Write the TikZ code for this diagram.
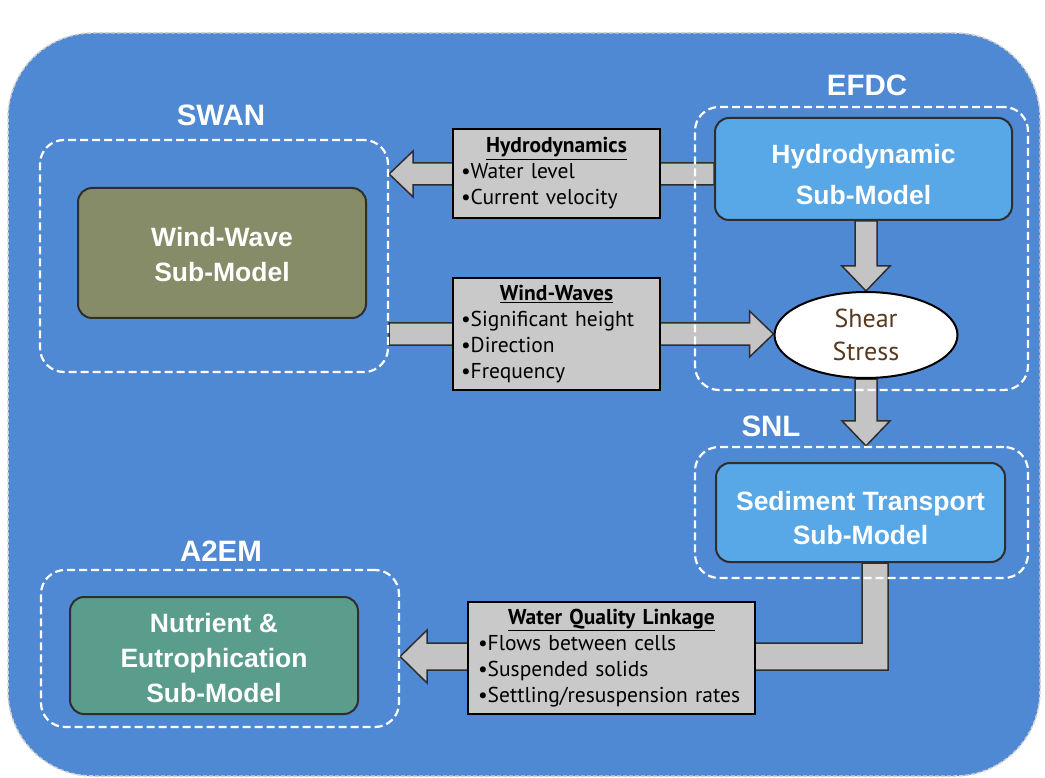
\documentclass[tikz,border=0pt]{standalone}
\usepackage{fontspec}
\setmainfont{Liberation Sans}
\newfontfamily\infofont{PT Sans}
\usetikzlibrary{shapes.geometric,calc}
\definecolor{bgblue}{HTML}{4F88D3}
\definecolor{olivebox}{HTML}{878C68}
\definecolor{tealbox}{HTML}{5B9D8D}
\definecolor{lightblue}{HTML}{58A7E6}
\definecolor{infogray}{HTML}{C9C9C9}
\definecolor{arrowgray}{HTML}{C4C4C4}
\definecolor{edgedark}{HTML}{2E2E2E}
\definecolor{sheartext}{HTML}{5A3A1E}
\definecolor{framegray}{HTML}{D0D0D0}
\pgfdeclarelayer{bglayer}
\pgfdeclarelayer{arrlayer}
\pgfsetlayers{bglayer,arrlayer,main}
\tikzset{
  model/.style={draw=edgedark, line width=2pt, rounded corners=14pt, inner sep=0pt},
  modeltext/.style={text=white, font=\fontsize{26.5}{35}\selectfont\bfseries, align=center, inner sep=0pt},
  group/.style={draw=white, dash pattern=on 8pt off 4pt, line width=2.2pt, rounded corners=24pt, inner sep=0pt},
  grouplabel/.style={text=white, font=\fontsize{29.5}{32}\selectfont\bfseries},
  info/.style={draw=black, line width=2pt, fill=infogray, font=\infofont\fontsize{21.5}{26}\selectfont,
    inner sep=0pt, align=left},
  fat/.style={draw=edgedark, line width=1.5pt, fill=arrowgray, line join=miter},
}
\newcommand\fatH[3]{%
  \draw[fat] let \p1=(#1), \p2=(#2), \n1={ifthenelse(\x1>\x2,1,-1)}, \n2={\x2+\n1*24} in
    (\x1,-#3pt+11pt) -- (\n2,-#3pt+11pt) -- (\n2,-#3pt+23pt) -- (\x2,-#3pt)
    -- (\n2,-#3pt-23pt) -- (\n2,-#3pt-11pt) -- (\x1,-#3pt-11pt) -- cycle;}
\newcommand\fatV[3]{%
  \draw[fat] let \p1=(#1), \p2=(#2), \n1={ifthenelse(\y1>\y2,1,-1)}, \n2={\y2+\n1*25} in
    (#3pt-11pt,\y1) -- (#3pt-11pt,\n2) -- (#3pt-24pt,\n2) -- (#3pt,\y2)
    -- (#3pt+24pt,\n2) -- (#3pt+11pt,\n2) -- (#3pt+11pt,\y1) -- cycle;}
\newcommand\ctrhead[1]{\hbox to\hsize{\hfil\underline{\bfseries #1}\hfil}}
\begin{document}
\begin{tikzpicture}[x=1pt,y=-1pt]
\useasboundingbox (0,0) rectangle (1045,778);

\begin{pgfonlayer}{bglayer}
\fill[white] (0,0) rectangle (1045,778);
\node[draw=framegray, dash pattern=on 4pt off 2pt, line width=1.5pt, fill=bgblue, rounded corners=85pt,
  minimum width=1032pt, minimum height=743pt, inner sep=0pt] (frame) at (524,404.5) {};
\end{pgfonlayer}

% group boxes
\node[group, minimum width=348pt, minimum height=232pt] (swanbox) at (214,256) {};
\node[group, minimum width=333pt, minimum height=283pt] (efdcbox) at (861.5,248.5) {};
\node[group, minimum width=333pt, minimum height=131pt] (snlbox) at (861.5,512.5) {};
\node[group, minimum width=358pt, minimum height=157pt] (a2embox) at (220,648.5) {};

% group labels
\node[grouplabel] (swanlab) at (221,115) {SWAN};
\node[grouplabel] (efdclab) at (867,85) {EFDC};
\node[grouplabel] (snllab) at (771,426) {SNL};
\node[grouplabel] (a2emlab) at (221,551) {A2EM};

% models
\node[model, fill=olivebox, minimum width=288pt, minimum height=130pt] (wind) at (222,253) {};
\node[modeltext] (windtxt) at ($(wind.center)+(0,2)$) {Wind-Wave\\Sub-Model};
\node[model, fill=lightblue, minimum width=297pt, minimum height=102pt] (hyd) at (863.5,169) {};
\node[modeltext, font=\fontsize{26.5}{41}\selectfont\bfseries] (hydtxt) at ($(hyd.center)+(0,6)$) {Hydrodynamic\\Sub-Model};
\node[model, fill=lightblue, minimum width=289pt, minimum height=99pt] (sed) at (860.5,512.5) {};
\node[modeltext, font=\fontsize{26.5}{34}\selectfont\bfseries] (sedtxt) at ($(sed.center)+(0,6)$) {Sediment Transport\\Sub-Model};
\node[model, fill=tealbox, minimum width=288pt, minimum height=117pt] (nut) at (214,655.5) {};
\node[modeltext, font=\fontsize{26.5}{35}\selectfont\bfseries] (nuttxt) at ($(nut.center)+(0,3)$) {Nutrient \&\\Eutrophication\\Sub-Model};
\node[ellipse, draw=black, line width=2pt, fill=white, minimum width=183pt, minimum height=86pt,
  inner sep=0pt, align=center, text=sheartext, font=\infofont\fontsize{26}{33}\selectfont] (shear) at (866,335) {Shear\\Stress};

% info boxes
\node[info, minimum width=207pt, minimum height=89pt, text width=191pt] (hinfo) at (556.5,173.5)
  {\ctrhead{Hydrodynamics}\\ •Water level\\ •Current velocity};
\node[info, minimum width=207pt, minimum height=112pt, text width=191pt] (winfo) at (556.5,334)
  {\ctrhead{Wind-Waves}\\ •Significant height\\ •Direction\\ •Frequency};
\node[info, minimum width=287pt, minimum height=112pt, text width=267pt] (qinfo) at (611.5,658)
  {\ctrhead{Water Quality Linkage}\\ •Flows between cells\\ •Suspended solids\\ •Settling/resuspension rates};

% arrows
\begin{pgfonlayer}{arrlayer}
\fatH{hyd.west}{swanbox.east}{174}
\fatH{swanbox.east}{shear.west}{334}
\fatV{hyd.south}{shear.north}{866}
\fatV{shear.south}{snlbox.north}{866}
\draw[fat] let \p1=(sed.south), \p2=(a2embox.east) in
  (862pt,\y1) -- (862pt,-643pt) -- (\x2+27pt,-643pt) -- (\x2+27pt,-630pt) -- (\x2,-656.5pt)
  -- (\x2+27pt,-683pt) -- (\x2+27pt,-670pt) -- (888pt,-670pt) -- (888pt,\y1) -- cycle;
\end{pgfonlayer}
\end{tikzpicture}
\end{document}
